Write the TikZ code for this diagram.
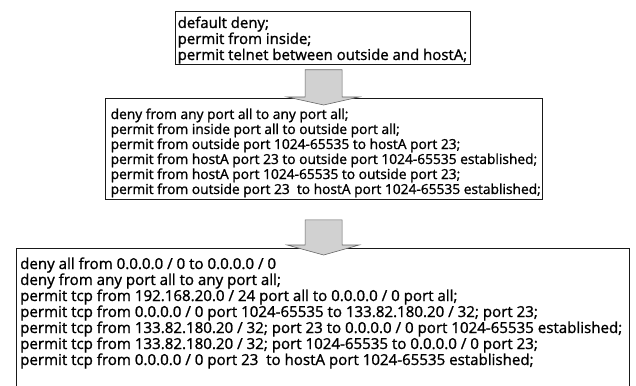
\documentclass[tikz,border=0pt]{standalone}
\usepackage{fontspec}
\setmainfont{Open Sans}[BoldFont={Open Sans}, BoldFeatures={FakeBold=1.2}]
\usetikzlibrary{calc}
\newlength\reflen
\newcommand\fontA{\bfseries\fontsize{\fsA pt}{16pt}\selectfont}
\newcommand\fontB{\bfseries\fontsize{\fsB pt}{15pt}\selectfont}
\newcommand\fontC{\bfseries\fontsize{\fsC pt}{16pt}\selectfont}
\tikzset{
  rulebox/.style={draw=black!90, line width=0.8pt, inner sep=0pt, anchor=north west},
  ruletext/.style={anchor=base west, inner sep=0pt},
  blockarrow/.style={fill=black!18, draw=black!60, line width=0.6pt, line join=miter}
}
\begin{document}
\settowidth\reflen{\normalfont\bfseries\fontsize{10pt}{12pt}\selectfont permit telnet between outside and hostA;}%
\pgfmathsetmacro\fsA{10*289.5/\reflen}%
\settowidth\reflen{\normalfont\bfseries\fontsize{10pt}{12pt}\selectfont permit from hostA port 23 to outside port 1024-65535 established;}%
\pgfmathsetmacro\fsB{10*426.5/\reflen}%
\settowidth\reflen{\normalfont\bfseries\fontsize{10pt}{12pt}\selectfont permit tcp from 133.82.180.20 / 32; port 23 to 0.0.0.0 / 0 port 1024-65535 established;}%
\pgfmathsetmacro\fsC{10*602/\reflen}%
\begin{tikzpicture}[x=1pt,y=1pt]
\clip (0,0) rectangle (636,-385);
\fill[white] (0,0) rectangle (636,-385);
% boxes
\node[rulebox, minimum width=295pt, minimum height=53pt] (box1) at (175,-11) {};
\node[rulebox, minimum width=436.5pt, minimum height=101pt] (box2) at (105,-98) {};
\node[rulebox, minimum width=613pt, minimum height=160pt] (box3) at (16,-248) {};
% texts
\node[ruletext, font=\fontA] (t1) at (177.5,-28) {\vtop{\hbox{default deny;}\hbox{permit from inside;}\hbox{permit telnet between outside and hostA;}}};
\node[ruletext, font=\fontB] (t2) at (110.5,-119) {\vtop{%
\hbox{deny from any port all to any port all;}%
\hbox{permit from inside port all to outside port all;}%
\hbox{permit from outside port 1024-65535 to hostA port 23;}%
\hbox{permit from hostA port 23 to outside port 1024-65535 established;}%
\hbox{permit from hostA port 1024-65535 to outside port 23;}%
\hbox{permit from outside port 23 \ to hostA port 1024-65535 established;}}};
\node[ruletext, font=\fontC] (t3) at (20,-269) {\vtop{%
\hbox{deny all from 0.0.0.0 / 0 to 0.0.0.0 / 0}%
\hbox{deny from any port all to any port all;}%
\hbox{permit tcp from 192.168.20.0 / 24 port all to 0.0.0.0 / 0 port all;}%
\hbox{permit tcp from 0.0.0.0 / 0 port 1024-65535 to 133.82.180.20 / 32; port 23;}%
\hbox{permit tcp from 133.82.180.20 / 32; port 23 to 0.0.0.0 / 0 port 1024-65535 established;}%
\hbox{permit tcp from 133.82.180.20 / 32; port 1024-65535 to 0.0.0.0 / 0 port 23;}%
\hbox{permit tcp from 0.0.0.0 / 0 port 23 \ to hostA port 1024-65535 established;}}};
% block arrows
\coordinate (a1s) at ($(box2.north |- box1.south)+(0,-5)$);
\coordinate (a1e) at ($(box2.north)+(0,-7)$);
\filldraw[blockarrow] ($(a1s)+(-18.5,0)$) -- ($(a1s)+(18.5,0)$) -- ($(a1e)+(18.5,8)$)
  -- ($(a1e)+(35.5,8)$) -- (a1e) -- ($(a1e)+(-36.5,8)$) -- ($(a1e)+(-18.5,8)$) -- cycle;
\coordinate (a2s) at ($(box2.south)+(0,-20)$);
\coordinate (a2e) at ($(box2.south |- box3.north)+(0,-7)$);
\filldraw[blockarrow] ($(a2s)+(-18.5,0)$) -- ($(a2s)+(18.5,0)$) -- ($(a2e)+(18.5,10)$)
  -- ($(a2e)+(35.5,10)$) -- (a2e) -- ($(a2e)+(-36.5,10)$) -- ($(a2e)+(-18.5,10)$) -- cycle;
\end{tikzpicture}
\end{document}
